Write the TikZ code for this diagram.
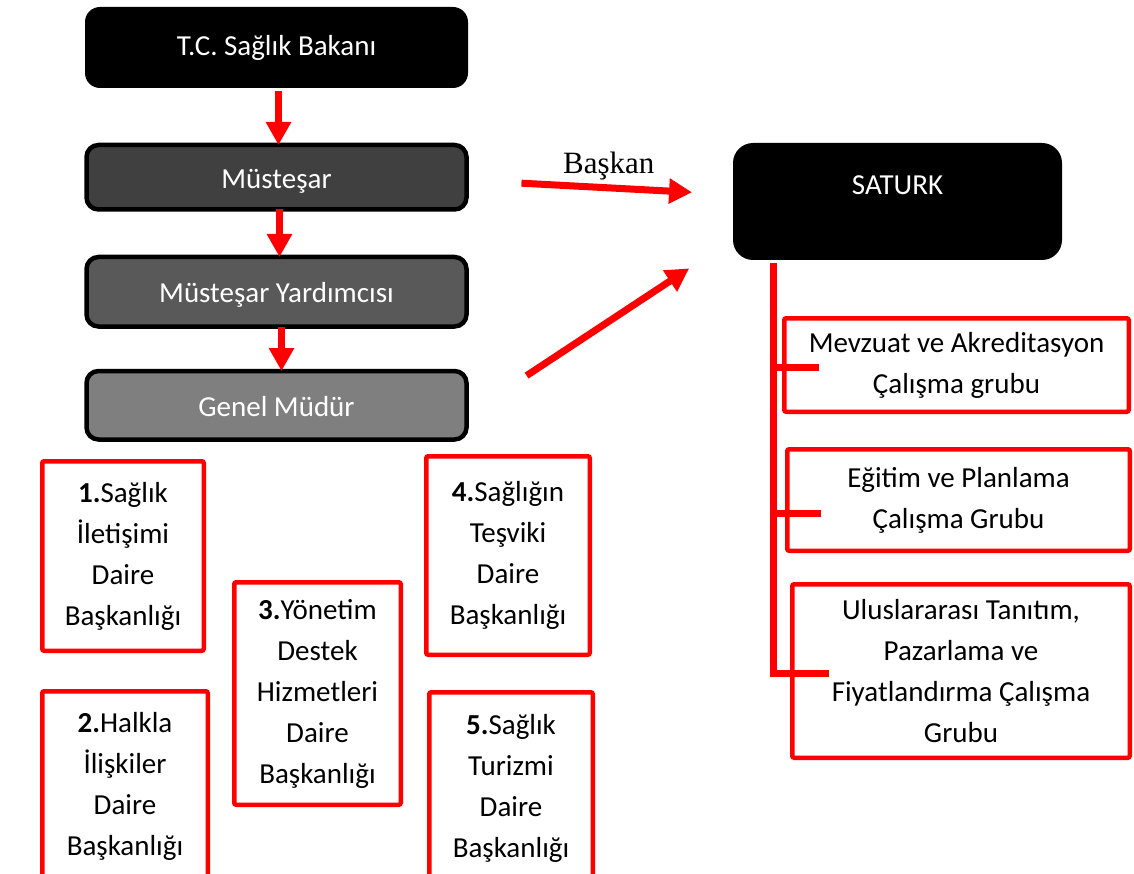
\documentclass[tikz,border=0pt]{standalone}
\usepackage{fontspec}
\setmainfont{Carlito}
\newfontfamily\timesfont{Liberation Serif}
\usepackage{xcolor}
\usepackage{tikz}
\usetikzlibrary{arrows.meta, positioning}
\definecolor{kirmizi}{RGB}{255,0,0}
\definecolor{koyu}{RGB}{64,64,64}
\definecolor{orta}{RGB}{89,89,89}
\definecolor{acik}{RGB}{127,127,127}

\begin{document}
\begin{tikzpicture}[
  x=1pt, y=-1pt,
  every node/.style={outer sep=0pt, inner sep=0pt},
  top/.style={rectangle, fill=black, rounded corners=15pt,
              minimum width=383pt, minimum height=81pt,
              text=white, font=\fontsize{29}{41}\selectfont},
  lvl/.style={rectangle, draw=black, line width=4.5pt, rounded corners=12pt,
              minimum width=380pt, text height=22pt, text depth=0pt,
              text=white, font=\fontsize{29}{41}\selectfont},
  dept/.style={rectangle, draw=kirmizi, fill=white, line width=4.5pt,
               rounded corners=2pt, align=center, font=\fontsize{29}{41}\selectfont},
  arr/.style={-{Triangle[width=24pt,length=23pt]}, line width=7pt, kirmizi},
  busline/.style={line width=7pt, kirmizi}
]
\useasboundingbox (0,0) rectangle (1134,874);
\clip (0,0) rectangle (1134,874);
\fill[white] (0,0) rectangle (1134,874);

% bakanlik kademeleri
\node[top] (bak) at (276.5,47.5) {T.C. Sağlık Bakanı};
\node[lvl, fill=koyu, minimum height=64.5pt, below=57pt of bak] (mus) {Müsteşar};
\node[lvl, fill=orta, minimum height=69.5pt, below=47.5pt of mus] (yard) {Müsteşar Yardımcısı};
\node[lvl, fill=acik, minimum height=68.5pt, below=44.5pt of yard] (gen) {Genel Müdür};

% daire baskanliklari
\node[dept, minimum width=161.5pt, minimum height=189.5pt] (d1) at (123,556)
  {{\bfseries 1.}Sağlık\\İletişimi\\Daire\\Başkanlığı};
\node[dept, minimum width=165.5pt, minimum height=190.5pt] (d2) at (125,786.5)
  {{\bfseries 2.}Halkla\\İlişkiler\\Daire\\Başkanlığı};
\node[dept, minimum width=166.5pt, minimum height=222.5pt] (d3) at (317.5,693.5)
  {{\bfseries 3.}Yönetim\\Destek\\Hizmetleri\\Daire\\Başkanlığı};
\node[dept, minimum width=163.5pt, minimum height=198.5pt] (d4) at (508,555.5)
  {{\bfseries 4.}Sağlığın\\Teşviki\\Daire\\Başkanlığı};
\node[dept, minimum width=163.5pt, minimum height=191.5pt] (d5) at (511,788)
  {{\bfseries 5.}Sağlık\\Turizmi\\Daire\\Başkanlığı};

% saturk ve calisma gruplari
\node[top, rounded corners=20pt, minimum width=329pt, minimum height=117pt,
      text height=19pt, text depth=32pt] (sat) at (897.5,201.5) {SATURK};
\node[dept, minimum width=344.5pt, minimum height=93.5pt] (g1) at (956.5,365)
  {Mevzuat ve Akreditasyon\\Çalışma grubu};
\node[dept, minimum width=342.5pt, minimum height=101.5pt] (g2) at (958.5,500)
  {Eğitim ve Planlama\\Çalışma Grubu};
\node[dept, minimum width=337.5pt, minimum height=173.5pt] (g3) at (961,671)
  {Uluslararası Tanıtım,\\Pazarlama ve\\Fiyatlandırma Çalışma\\Grubu};

\draw[arr, shorten <=3pt] ([xshift=2pt]bak.south) -- ([xshift=2pt]mus.north);
\draw[arr] ([xshift=3pt]mus.south) -- ([xshift=3pt]yard.north);
\draw[arr] ([xshift=5pt]yard.south) -- ([xshift=5pt]gen.north);

\draw[arr, shorten <=55pt, shorten >=41pt] ([yshift=-3pt]mus.east) --
  node[pos=.534, above=8pt, text=black, font=\timesfont\fontsize{31}{31}\selectfont] (bsk) {Başkan}
  ([yshift=7pt]sat.west);
\draw[arr, shorten <=72pt, shorten >=52.5pt] ([yshift=-10pt]gen.east) -- ([yshift=-38pt]sat.west);

\coordinate (bus) at ([xshift=40pt,yshift=-3pt]sat.south west);
\coordinate (s1) at ([xshift=35pt,yshift=-2pt]g1.west);
\coordinate (s2) at ([xshift=34pt,yshift=-13pt]g2.west);
\coordinate (s3) at ([xshift=37pt,yshift=-2pt]g3.west);
\draw[busline] (bus) |- (s3);
\draw[busline] (bus |- s1) -- (s1);
\draw[busline] (bus |- s2) -- (s2);
\end{tikzpicture}
\end{document}
